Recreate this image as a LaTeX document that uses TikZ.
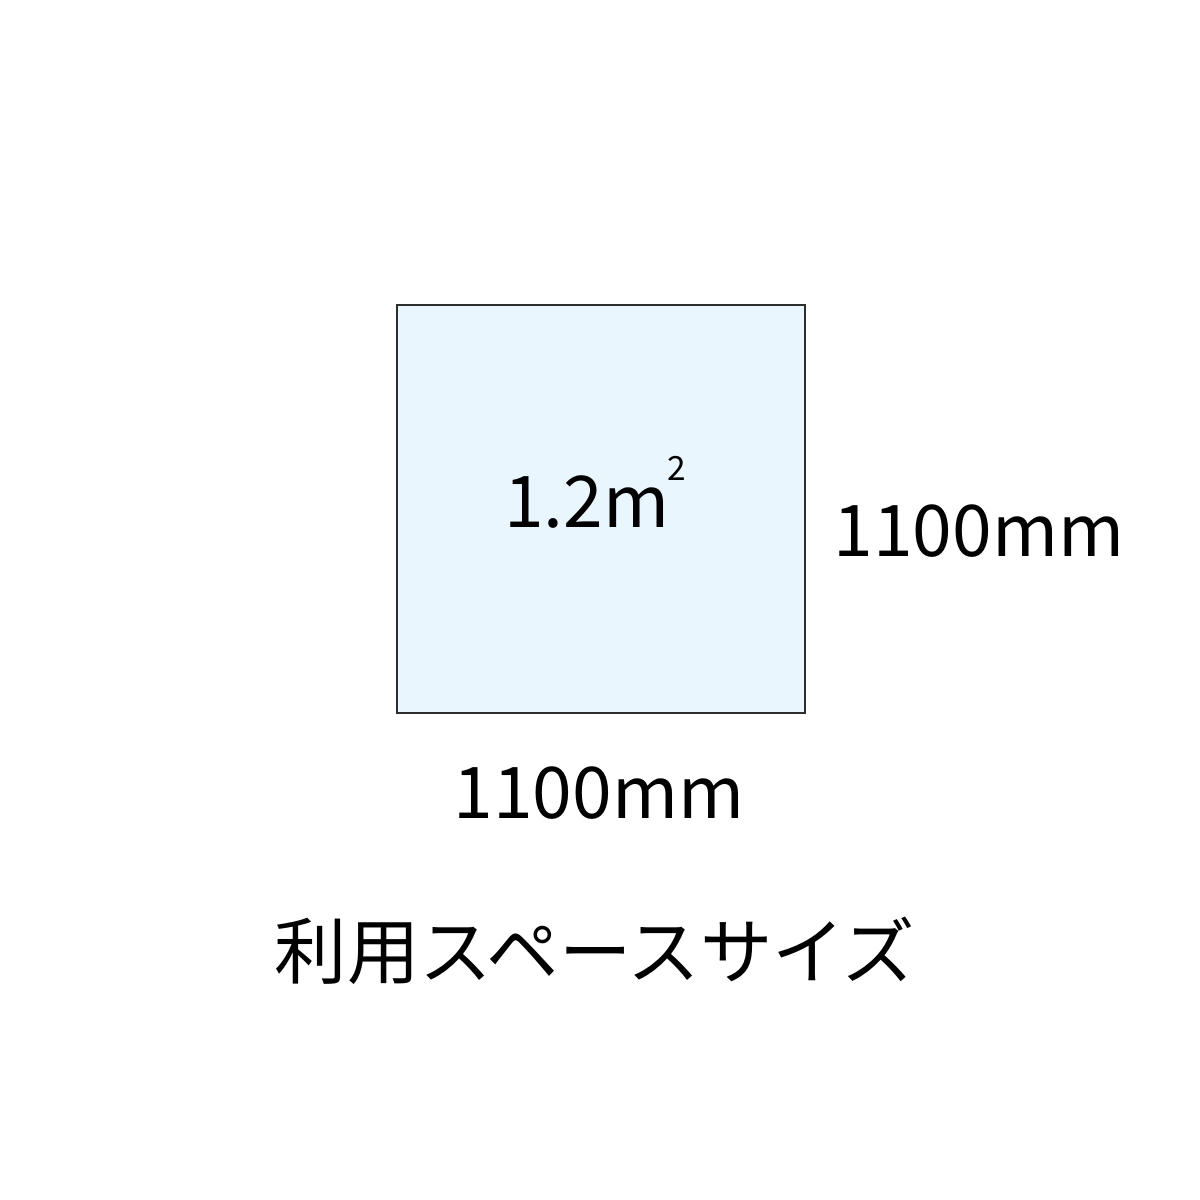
\documentclass[tikz,border=0pt]{standalone}
\usepackage{fontspec}
\setmainfont{Noto Sans CJK JP}
\usepackage{xcolor}
\usetikzlibrary{positioning}
\definecolor{areablue}{HTML}{EAF6FD}
\definecolor{areaedge}{HTML}{2E2E2E}
\tikzset{
    label text/.style={font=\fontsize{20.3}{25}\selectfont, inner sep=0pt},
    area box/.style={draw=areaedge, line width=0.6pt, fill=areablue,
        minimum width=4.08cm, minimum height=4.08cm, inner sep=0pt}
}

\begin{document}
\begin{tikzpicture}
    \useasboundingbox (0,0) rectangle (12,12);
    \node[area box] (area) at (6.01,6.91) {};
    \node[label text, anchor=base] (size) at (5.95,6.72) {1.2m\kern-0.03em\raisebox{0.66em}{\fontsize{9.5}{11}\selectfont 2}};
    \node[label text, anchor=base] (height) at (9.79,6.43) {1100mm};
    \node[label text, anchor=base] (width) at (5.99,3.81) {1100mm};
    \node[label text, anchor=base, font=\fontsize{20.6}{24}\selectfont] (title) at (5.95,2.21) {利用スペースサイズ};
\end{tikzpicture}
\end{document}
